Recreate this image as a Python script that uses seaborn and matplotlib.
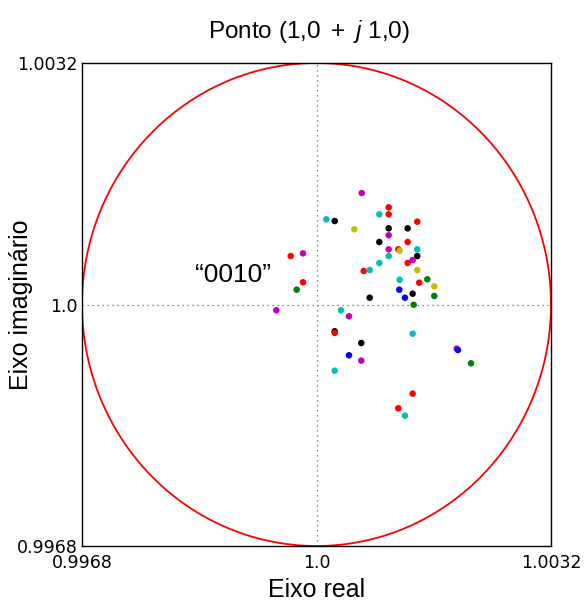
import matplotlib
matplotlib.use("Agg")
import matplotlib.pyplot as plt
import numpy as np
import pandas as pd
import seaborn as sns

# Deviations from the point (1,0 + j 1,0), in units of 1e-4
re_dev = [6.17, 9.85, 8.57, 9.85, 1.34, 2.48, 13.75, 5.16, 9.85, 12.44,
          9.85, 8.57, 12.44, 9.85, 11.16, 11.35, 13.75, -1.84, -3.52, 9.85,
          13.75, 13.12, 12.44, 8.57, 6.44, 7.26, 13.75, -1.84, -2.70, 11.35,
          15.12, 14.02, 16.07, 11.30, 13.12, 16.07, 12.07, 7.26, 13.26, -5.48,
          3.34, 4.43, 2.48, 2.48, 13.12, 6.11, 19.13, 19.30, 4.43, 6.11,
          21.08, 2.48, 13.12, 11.16, 12.07]
im_dev = [14.77, 12.87, 11.95, 11.95, 11.28, 11.06, 10.97, 9.96, 10.09, 10.09,
          9.17, 8.28, 8.28, 7.31, 7.31, 7.13, 7.31, 6.78, 6.42, 6.42,
          6.42, 5.89, 5.50, 5.50, 4.44, 4.57, 4.57, 2.94, 1.96, 3.28,
          3.34, 2.89, 2.41, 1.96, 1.43, 1.13, 0.90, 0.90, -0.03, -0.77,
          -0.77, -1.56, -3.55, -3.77, -3.87, -5.10, -5.85, -6.03, -6.73, -7.44,
          -7.79, -8.77, -11.81, -13.75, -14.73]
series = ["m", "r", "c", "r", "c", "k", "r", "y", "k", "k",
          "m", "k", "r", "m", "r", "y", "c", "m", "r", "c",
          "k", "m", "r", "c", "r", "c", "y", "r", "g", "c",
          "g", "r", "y", "b", "k", "g", "b", "k", "g", "m",
          "c", "m", "k", "r", "c", "k", "m", "b", "b", "m",
          "g", "c", "r", "r", "c"]

center = 1.0
radius = 0.0032
tick_values = [0.9968, 1.0, 1.0032]
tick_labels = ["0.9968", "1.0", "1.0032"]

palette = {"b": (0, 0, 1), "g": (0, 0.5, 0), "r": (1, 0, 0),
           "c": (0, 0.75, 0.75), "m": (0.75, 0, 0.75),
           "y": (0.75, 0.75, 0), "k": (0, 0, 0)}

df = pd.DataFrame({
    "real": center + np.array(re_dev) * 1e-4,
    "imag": center + np.array(im_dev) * 1e-4,
    "serie": series,
})

sns.set_style("white")
plt.rcParams["font.family"] = ["Liberation Sans", "DejaVu Sans"]
plt.rcParams["mathtext.fontset"] = "custom"
plt.rcParams["mathtext.rm"] = "Liberation Sans"
plt.rcParams["mathtext.it"] = "Liberation Sans:italic"
plt.rcParams["text.color"] = "black"
plt.rcParams["axes.labelcolor"] = "black"
plt.rcParams["xtick.color"] = "black"
plt.rcParams["ytick.color"] = "black"

fig = plt.figure(figsize=(5.84, 6.07), dpi=100)
ax = fig.add_axes([82 / 584, 1 - 546 / 607, 469 / 584, 483 / 607])

# reference circle and cross-hair
t = np.linspace(0, 2 * np.pi, 500)
ax.plot(center + radius * np.cos(t), center + radius * np.sin(t),
        color="red", lw=1.3, zorder=1)
ax.axhline(center, color="#666666", lw=0.9, ls=(0, (1, 3)), zorder=0)
ax.axvline(center, color="#666666", lw=0.9, ls=(0, (1, 3)), zorder=0)

sns.scatterplot(data=df, x="real", y="imag", hue="serie", palette=palette,
                s=22, linewidth=0, legend=False, ax=ax, zorder=3)

ax.set_xlim(tick_values[0], tick_values[-1])
ax.set_ylim(tick_values[0], tick_values[-1])
ax.set_xticks(tick_values)
ax.set_xticklabels(tick_labels, fontfamily="DejaVu Sans", fontsize=12.5)
ax.set_yticks(tick_values)
ax.set_yticklabels(tick_labels, fontfamily="DejaVu Sans", fontsize=12.5)
ax.tick_params(axis="x", length=0, pad=6)
ax.tick_params(axis="y", length=0, pad=3)
for s in ax.spines.values():
    s.set_visible(True)
    s.set_color("black")
    s.set_linewidth(1.0)

ax.set_xlabel("Eixo real", fontsize=18, labelpad=4)
ax.set_ylabel("Eixo imaginário", fontsize=18)
ax.yaxis.set_label_coords(-0.104, 0.5)
ax.set_title(r"Ponto ($\mathit{1{,}0\ +\ j\ 1{,}0}$)", fontsize=17.5, pad=18, x=0.485)

ax.text(0.99886, 1.00039, "\u201c0010\u201d", fontsize=19, ha="center", va="center")

fig.savefig("out.png", dpi=100)
